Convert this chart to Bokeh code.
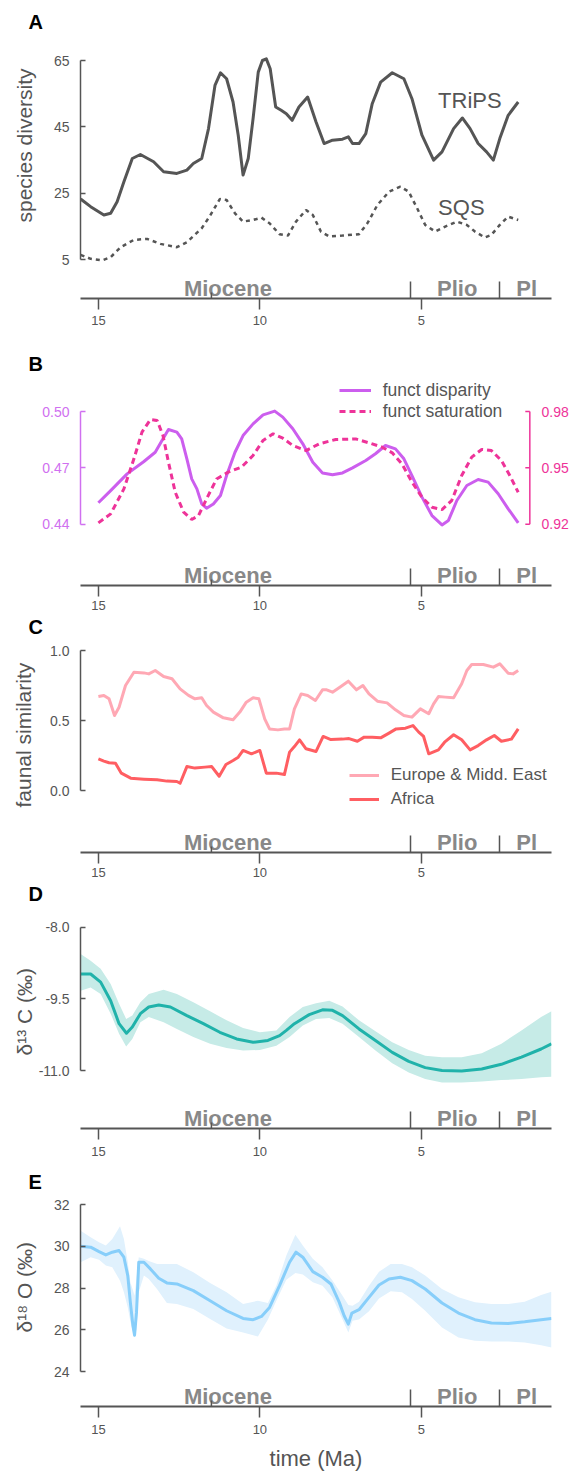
from bokeh.plotting import figure
from bokeh.models import (Range1d, FixedTicker, LinearAxis, Legend, LegendItem,
                          PrintfTickFormatter, Title)
from bokeh.layouts import column
from bokeh.embed import file_html
from bokeh.resources import INLINE
from bokeh.core.properties import value

FONT = "Liberation Sans"
GREY = "#555555"
EPOCH_GREY = "#888888"

# ---------------- data ----------------
time_ticks = [15, 10, 5]
epoch_bounds = [5.333, 2.58]
epoch_names = ["Miocene", "Plio", "Pl"]
epoch_label_age = [10.99, 3.89, 1.74]
miocene_subtick = [11.5]

# A: species diversity
trips_age = [15.55, 15.24, 14.83, 14.62, 14.42, 14.21, 13.95, 13.70, 13.29, 12.98, 12.57, 12.26, 12.06, 11.80, 11.59,
             11.39, 11.22, 11.03, 10.83, 10.67, 10.52, 10.36, 10.21, 10.05, 9.92, 9.80, 9.68, 9.51, 9.34, 9.18,
             9.00, 8.79, 8.52, 8.26, 8.01, 7.75, 7.44, 7.26, 7.13, 6.93, 6.72, 6.52, 6.26, 5.90, 5.54,
             5.29, 4.98, 4.62, 4.36, 4.00, 3.73, 3.49, 3.24, 2.98, 2.77, 2.57, 2.31, 2.00]
trips_val = [23.3, 21.0, 18.5, 19.0, 22.5, 28.5, 35.5, 36.7, 34.5, 31.5, 31.0, 32.0, 34.0, 35.5, 44.5,
             57.5, 61.3, 59.5, 52.5, 42.5, 30.5, 35.5, 47.5, 61.5, 65.0, 65.5, 62.5, 51.0, 50.0, 49.0,
             47.0, 51.0, 54.0, 46.5, 40.0, 41.0, 41.3, 42.0, 40.0, 40.0, 43.0, 52.0, 58.5, 61.3, 59.5,
             53.5, 42.5, 35.0, 37.5, 44.5, 47.7, 44.5, 40.0, 37.5, 35.0, 41.5, 48.5, 52.5]
sqs_age = [15.55, 15.24, 14.88, 14.62, 14.31, 13.90, 13.49, 13.08, 12.57, 12.26, 11.80, 11.54, 11.24, 11.03, 10.77,
           10.52, 10.21, 9.95, 9.70, 9.39, 9.13, 8.88, 8.57, 8.36, 8.11, 7.85, 7.44, 6.93, 6.67, 6.36,
           6.00, 5.65, 5.39, 5.13, 4.88, 4.57, 4.26, 3.90, 3.59, 3.34, 3.03, 2.83, 2.57, 2.31, 2.00]
sqs_val = [6.5, 5.3, 4.8, 5.8, 8.8, 11.0, 11.3, 9.8, 8.8, 10.3, 14.5, 18.3, 23.3, 23.0, 19.0,
           16.5, 17.0, 17.7, 16.0, 12.7, 12.3, 16.5, 20.0, 18.5, 13.5, 12.0, 12.3, 12.7, 16.0, 21.5,
           25.5, 27.0, 25.5, 20.5, 15.5, 13.5, 15.0, 16.5, 15.5, 13.5, 11.7, 12.5, 15.5, 18.0, 17.0]
a_ticks = [5, 25, 45, 65]
a_series_names = ["TRiPS", "SQS"]
a_name_age = [4.48, 4.48]
a_name_val = [52.9, 20.8]

# B: functional disparity / saturation
disp_age = [15.00, 14.62, 14.11, 13.59, 13.24, 13.03, 12.83, 12.57, 12.42, 12.26, 12.11, 11.95, 11.80, 11.65, 11.44,
            11.22, 11.03, 10.77, 10.52, 10.21, 9.90, 9.54, 9.29, 8.98, 8.67, 8.36, 8.06, 7.75, 7.44, 7.13,
            6.72, 6.42, 6.11, 5.80, 5.54, 5.29, 4.98, 4.67, 4.36, 4.16, 3.90, 3.59, 3.24, 2.93, 2.62, 2.31, 2.00]
disp_val = [0.4514, 0.4579, 0.4668, 0.4734, 0.4783, 0.4846, 0.4904, 0.4890, 0.4854, 0.4748, 0.4641, 0.4588, 0.4508,
            0.4485, 0.4508, 0.4553, 0.4659, 0.4783, 0.4872, 0.4934, 0.4982, 0.5002, 0.4970, 0.4908, 0.4828, 0.4730,
            0.4673, 0.4663, 0.4673, 0.4700, 0.4739, 0.4775, 0.4819, 0.4801, 0.4748, 0.4659, 0.4544, 0.4446, 0.4396,
            0.4420, 0.4526, 0.4606, 0.4638, 0.4624, 0.4562, 0.4482, 0.4407]
sat_age = [15.00, 14.62, 14.21, 13.90, 13.65, 13.39, 13.18, 13.00, 12.83, 12.62, 12.36, 12.11, 11.90, 11.65, 11.34,
           10.98, 10.57, 10.21, 9.90, 9.59, 9.29, 8.98, 8.57, 8.16, 7.65, 7.03, 6.62, 6.21, 5.90, 5.60,
           5.29, 4.98, 4.67, 4.36, 4.06, 3.75, 3.44, 3.13, 2.83, 2.52, 2.26, 2.00]
sat_val = [0.9207, 0.9255, 0.9388, 0.9548, 0.9690, 0.9757, 0.9752, 0.9672, 0.9530, 0.9370, 0.9264, 0.9225, 0.9246,
           0.9335, 0.9441, 0.9477, 0.9504, 0.9566, 0.9646, 0.9681, 0.9658, 0.9619, 0.9592, 0.9628, 0.9651, 0.9654,
           0.9633, 0.9610, 0.9580, 0.9521, 0.9424, 0.9344, 0.9290, 0.9278, 0.9326, 0.9459, 0.9557, 0.9598, 0.9592,
           0.9539, 0.9459, 0.9370]
disp_ticks = [0.44, 0.47, 0.50]
sat_ticks = [0.92, 0.95, 0.98]
sat_axis_age = 1.64

# C: faunal similarity
eur_age = [15.00, 14.83, 14.67, 14.50, 14.36, 14.16, 13.90, 13.59, 13.44, 13.24, 12.98, 12.72, 12.47, 12.21, 12.01,
           11.80, 11.65, 11.44, 11.13, 10.83, 10.62, 10.42, 10.21, 10.03, 9.85, 9.70, 9.44, 9.24, 9.08, 8.93,
           8.72, 8.52, 8.28, 8.06, 7.93, 7.75, 7.49, 7.26, 7.01, 6.81, 6.62, 6.36, 6.06, 5.80, 5.54,
           5.29, 5.03, 4.77, 4.62, 4.47, 4.26, 4.00, 3.75, 3.59, 3.44, 3.08, 2.77, 2.57, 2.31, 2.16, 2.00]
eur_val = [0.671, 0.679, 0.655, 0.536, 0.595, 0.750, 0.845, 0.840, 0.833, 0.857, 0.814, 0.798, 0.726, 0.679, 0.655,
           0.662, 0.607, 0.560, 0.519, 0.505, 0.560, 0.631, 0.662, 0.655, 0.512, 0.440, 0.433, 0.440, 0.440, 0.583,
           0.690, 0.679, 0.643, 0.719, 0.719, 0.702, 0.743, 0.781, 0.719, 0.750, 0.690, 0.638, 0.626, 0.576, 0.536,
           0.524, 0.583, 0.548, 0.619, 0.671, 0.667, 0.662, 0.762, 0.857, 0.900, 0.900, 0.881, 0.905, 0.838, 0.833,
           0.857]
afr_age = [15.00, 14.83, 14.67, 14.47, 14.29, 14.00, 13.59, 13.18, 12.88, 12.57, 12.47, 12.26, 12.01, 11.70, 11.49,
           11.26, 11.05, 10.83, 10.67, 10.52, 10.26, 10.00, 9.80, 9.49, 9.24, 9.08, 8.93, 8.77, 8.57, 8.26,
           8.04, 7.80, 7.44, 7.24, 6.98, 6.77, 6.52, 6.26, 6.00, 5.78, 5.49, 5.26, 5.08, 4.93, 4.77,
           4.47, 4.28, 4.00, 3.75, 3.49, 3.24, 2.98, 2.74, 2.52, 2.21, 2.00]
afr_val = [0.226, 0.210, 0.198, 0.195, 0.124, 0.088, 0.081, 0.076, 0.067, 0.064, 0.052, 0.171, 0.160, 0.167, 0.171,
           0.102, 0.186, 0.214, 0.238, 0.286, 0.262, 0.286, 0.124, 0.124, 0.114, 0.274, 0.314, 0.362, 0.298, 0.279,
           0.386, 0.364, 0.367, 0.371, 0.352, 0.381, 0.381, 0.376, 0.410, 0.440, 0.445, 0.464, 0.417, 0.386, 0.262,
           0.290, 0.345, 0.398, 0.362, 0.290, 0.321, 0.362, 0.393, 0.352, 0.367, 0.440]
c_ticks = [0.0, 0.5, 1.0]

# D: d13C
d13c_age = [15.55, 15.24, 14.93, 14.62, 14.36, 14.13, 13.95, 13.70, 13.44, 13.13, 12.77, 12.26, 11.75, 11.24, 10.72,
            10.21, 9.75, 9.39, 9.18, 8.93, 8.47, 8.06, 7.75, 7.44, 6.93, 6.42, 5.90, 5.39, 4.88, 4.36,
            3.75, 3.13, 2.52, 1.90, 1.29, 0.97]
d13c_mean = [-8.98, -8.98, -9.15, -9.54, -10.02, -10.22, -10.09, -9.81, -9.67, -9.63, -9.67, -9.85, -10.02, -10.20,
             -10.34, -10.41, -10.37, -10.27, -10.16, -10.02, -9.83, -9.73, -9.74, -9.85, -10.13, -10.37, -10.62,
             -10.81, -10.94, -11.00, -11.01, -10.97, -10.87, -10.72, -10.55, -10.44]
d13c_band_age = [15.55, 15.24, 14.93, 14.62, 14.36, 14.14, 13.95, 13.70, 13.44, 12.98, 12.57, 12.06, 11.54, 11.03,
                 10.52, 10.00, 9.49, 9.08, 8.67, 8.26, 7.85, 7.44, 6.93, 6.42, 5.90, 5.39, 4.88, 4.36, 3.75, 3.13,
                 2.52, 1.90, 1.29, 0.97]
d13c_upper = [-8.56, -8.70, -8.87, -9.19, -9.60, -9.92, -9.85, -9.57, -9.40, -9.31, -9.40, -9.57, -9.76, -9.95,
              -10.11, -10.20, -10.16, -9.88, -9.67, -9.59, -9.54, -9.66, -9.95, -10.18, -10.41, -10.57, -10.69,
              -10.72, -10.72, -10.64, -10.44, -10.16, -9.88, -9.76]
d13c_lower = [-9.33, -9.26, -9.40, -9.81, -10.23, -10.50, -10.34, -9.99, -9.88, -9.99, -10.13, -10.30, -10.44,
              -10.53, -10.58, -10.57, -10.48, -10.30, -10.06, -9.92, -9.90, -10.02, -10.30, -10.58, -10.85, -11.04,
              -11.18, -11.25, -11.25, -11.23, -11.20, -11.18, -11.14, -11.13]
d_ticks = [-11.0, -9.5, -8.0]

# E: d18O
d18o_age = [15.55, 15.24, 14.98, 14.77, 14.57, 14.36, 14.21, 14.09, 14.01, 13.93, 13.88, 13.82, 13.75, 13.59, 13.39,
            13.13, 12.88, 12.57, 12.06, 11.54, 11.03, 10.52, 10.21, 9.95, 9.70, 9.39, 9.08, 8.88, 8.67, 8.36,
            8.06, 7.80, 7.54, 7.39, 7.26, 7.15, 6.93, 6.62, 6.31, 6.00, 5.65, 5.29, 4.88, 4.36, 3.85,
            3.34, 2.83, 2.31, 1.80, 1.29, 0.97]
d18o_mean = [30.0, 29.96, 29.75, 29.59, 29.72, 29.80, 29.48, 28.60, 27.32, 26.20, 25.75, 26.84, 29.24, 29.24, 28.92,
             28.47, 28.25, 28.20, 27.88, 27.40, 26.92, 26.55, 26.49, 26.65, 27.08, 28.12, 29.24, 29.72, 29.48, 28.79,
             28.52, 28.20, 27.32, 26.68, 26.28, 26.81, 26.97, 27.56, 28.15, 28.44, 28.52, 28.36, 27.96, 27.29, 26.81,
             26.49, 26.33, 26.31, 26.39, 26.49, 26.55]
d18o_band_age = [15.55, 15.24, 14.98, 14.77, 14.57, 14.33, 14.21, 14.09, 14.01, 13.93, 13.88, 13.82, 13.75, 13.59,
                 13.44, 13.18, 12.88, 12.57, 12.06, 11.54, 11.03, 10.52, 10.06, 9.75, 9.49, 9.18, 8.90, 8.67, 8.36,
                 8.06, 7.75, 7.44, 7.26, 7.13, 6.93, 6.62, 6.31, 5.95, 5.60, 5.29, 4.88, 4.36, 3.85, 3.34, 2.83,
                 2.31, 1.80, 1.29, 0.97]
d18o_upper = [30.75, 30.43, 30.19, 30.04, 30.35, 30.96, 30.35, 29.24, 28.28, 27.90, 27.64, 28.50, 29.48, 29.40,
              29.30, 29.16, 29.16, 29.16, 28.76, 28.25, 27.80, 27.24, 27.40, 27.29, 28.12, 29.56, 30.55, 30.04,
              29.40, 29.00, 28.36, 27.64, 27.20, 27.16, 27.35, 28.12, 28.79, 29.16, 29.16, 29.00, 28.60, 27.96,
              27.56, 27.32, 27.24, 27.24, 27.35, 27.67, 27.83]
d18o_lower = [29.24, 29.48, 29.36, 29.08, 29.00, 28.35, 27.80, 27.08, 26.40, 25.90, 25.64, 26.04, 27.80, 28.60,
              28.44, 27.95, 27.29, 27.24, 27.00, 26.52, 26.07, 25.88, 25.69, 26.50, 27.40, 28.40, 28.73, 28.65,
              28.28, 28.12, 27.55, 26.50, 25.88, 26.44, 26.50, 26.90, 27.50, 27.85, 27.80, 27.48, 26.92, 26.12,
              25.64, 25.48, 25.45, 25.45, 25.40, 25.27, 25.16]
e_ticks = [24, 26, 28, 30, 32]

# ---------------- layout helpers ----------------
W = 571
X_LEFT, X_RIGHT = 15.554, 0.969   # time axis, reversed (Ma)


def y_span(v_top, px_top, v_bot, px_bot, ft, fb):
    k = (v_top - v_bot) / (px_bot - px_top)
    return v_bot - (fb - px_bot) * k, v_top + (px_top - ft) * k, k


def make_panel(h, ct, ft, fb, ticks, tick_px, fmt, letter, letter_standoff, xstandoff,
               ylabel=None, ylabel_offset=0, ylabel_standoff=0, axis_color=GREY):
    y_lo, y_hi, k = y_span(max(ticks), tick_px[0], min(ticks), tick_px[1], ft, fb)
    p = figure(width=W, height=h, x_range=Range1d(X_LEFT, X_RIGHT), y_range=Range1d(y_lo, y_hi),
               output_backend="svg", toolbar_location=None,
               min_border_left=79, min_border_right=18,
               min_border_top=ft - ct, min_border_bottom=ct + h - fb)
    p.outline_line_color = None
    p.xgrid.visible = False
    p.ygrid.visible = False
    p.background_fill_color = "white"
    p.border_fill_color = "white"

    p.title.text = letter
    p.title.align = "left"
    p.title.offset = -52
    p.title.standoff = letter_standoff
    p.title.vertical_align = "bottom"
    p.title.text_font = FONT
    p.title.text_font_size = "20px"
    p.title.text_font_style = "bold"
    p.title.text_color = "black"

    xa = p.xaxis[0]
    xa.ticker = FixedTicker(ticks=time_ticks, minor_ticks=epoch_bounds)
    xa.axis_line_color = GREY
    xa.axis_line_width = 2
    xa.major_tick_line_color = GREY
    xa.major_tick_line_width = 1.5
    xa.major_tick_out = 11
    xa.major_tick_in = 0
    xa.minor_tick_line_color = GREY
    xa.minor_tick_line_width = 1.5
    xa.minor_tick_in = 17
    xa.minor_tick_out = 0
    xa.major_label_standoff = xstandoff
    xa.major_label_text_font = FONT
    xa.major_label_text_font_size = "13px"
    xa.major_label_text_color = GREY

    ya = p.yaxis[0]
    ya.ticker = FixedTicker(ticks=ticks)
    ya.bounds = (min(ticks), max(ticks))
    ya.formatter = PrintfTickFormatter(format=fmt)
    ya.axis_line_color = axis_color
    ya.axis_line_width = 1.5
    ya.major_tick_line_color = axis_color
    ya.major_tick_line_width = 1.5
    ya.major_tick_in = 5
    ya.major_tick_out = 0
    ya.minor_tick_line_color = None
    ya.major_label_standoff = 11
    ya.major_label_text_font = FONT
    ya.major_label_text_font_size = "14px"
    ya.major_label_text_color = axis_color

    # geologic epochs
    p.text(x=epoch_label_age, y=[y_lo + 10.5 * k] * len(epoch_names), text=epoch_names,
           text_font=value(FONT), text_font_style="bold", text_font_size="22px",
           text_color=EPOCH_GREY, text_align="center", text_baseline="alphabetic")
    p.segment(x0=miocene_subtick, y0=[y_lo], x1=miocene_subtick, y1=[y_lo + 6 * k],
              line_color=GREY, line_width=1.5)

    if ylabel:
        t = Title(text=ylabel, align="left", offset=ylabel_offset, standoff=ylabel_standoff,
                  vertical_align="top", text_font=FONT, text_font_size="21px",
                  text_font_style="normal", text_color=GREY)
        p.add_layout(t, "left")
    return p, y_lo, k


# ---------------- A ----------------
pA, _, _ = make_panel(330, 0, 27, 298, a_ticks, (60, 259.3), "%d", "A", -11, 6,
                      "species diversity", 76, 25)
pA.line(trips_age, trips_val, line_color=GREY, line_width=3, line_join="round")
pA.line(sqs_age, sqs_val, line_color=GREY, line_width=2.5, line_dash="4 4")
pA.text(x=a_name_age, y=a_name_val, text=a_series_names, text_font=value(FONT),
        text_font_size="22px", text_color=GREY, text_align="left", text_baseline="alphabetic")

# ---------------- B ----------------
VIOLET = "#CC5EEE"
VIOLET_AX = "#D070F0"
PINK = "#EE3399"
pB, _, _ = make_panel(285, 330, 369, 585, disp_ticks, (411, 523.7), "%.2f", "B", -10, 4,
                      axis_color=VIOLET_AX)
s_lo, s_hi, s_k = y_span(max(sat_ticks), 411, min(sat_ticks), 523.7, 369, 585)
pB.extra_y_ranges = {"sat": Range1d(s_lo, s_hi)}
r_disp = pB.line(disp_age, disp_val, line_color=VIOLET, line_width=3, line_join="round")
r_sat = pB.line(sat_age, sat_val, line_color=PINK, line_width=3, line_dash="6 4",
                y_range_name="sat")
# right-hand axis (inside the frame, as in the original)
pB.segment(x0=[sat_axis_age], y0=[min(sat_ticks)], x1=[sat_axis_age], y1=[max(sat_ticks)],
           line_color=PINK, line_width=1.5, y_range_name="sat")
pB.segment(x0=[sat_axis_age] * 3, y0=sat_ticks, x1=[sat_axis_age + 0.14] * 3, y1=sat_ticks,
           line_color=PINK, line_width=1.5, y_range_name="sat")
ra = LinearAxis(y_range_name="sat", ticker=FixedTicker(ticks=sat_ticks),
                formatter=PrintfTickFormatter(format="%.2f"))
ra.axis_line_color = None
ra.major_tick_line_color = None
ra.minor_tick_line_color = None
ra.major_tick_in = 0
ra.major_tick_out = 0
ra.major_label_standoff = -10
ra.major_label_text_font = FONT
ra.major_label_text_font_size = "14px"
ra.major_label_text_color = PINK
pB.add_layout(ra, "right")
legB = Legend(items=[LegendItem(label="funct disparity", renderers=[r_disp]),
                     LegendItem(label="funct saturation", renderers=[r_sat])],
              location=(258.7, 163.5), padding=0, margin=0, spacing=-1,
              glyph_width=32, glyph_height=16, label_height=16, label_standoff=12,
              label_text_font=FONT, label_text_font_size="17.5px", label_text_color=GREY,
              background_fill_alpha=0, border_line_alpha=0)
pB.add_layout(legB)

# ---------------- C ----------------
pC, _, _ = make_panel(267, 615, 631, 852, c_ticks, (650, 790), "%.1f", "C", -13, 4,
                      "faunal similarity", 45, 21)
r_eur = pC.line(eur_age, eur_val, line_color="#FFA8B4", line_width=3, line_join="round")
r_afr = pC.line(afr_age, afr_val, line_color="#FF5E62", line_width=3, line_join="round")
legC = Legend(items=[LegendItem(label="Europe & Midd. East", renderers=[r_eur]),
                     LegendItem(label="Africa", renderers=[r_afr])],
              location=(268.7, 42.8), padding=0, margin=0, spacing=4,
              glyph_width=30, glyph_height=16, label_height=16, label_standoff=12,
              label_text_font=FONT, label_text_font_size="17px", label_text_color=GREY,
              background_fill_alpha=0, border_line_alpha=0)
pC.add_layout(legC)

# ---------------- D ----------------
pD, _, _ = make_panel(280, 882, 898, 1128, d_ticks, (926.7, 1070), "%.1f", "D", -13, 7,
                      "δ¹³ C (‰)", 73, -5)
pD.varea(x=d13c_band_age, y1=d13c_lower, y2=d13c_upper, fill_color="#C6EBE7")
pD.line(d13c_age, d13c_mean, line_color="#20B2AA", line_width=3, line_join="round")

# ---------------- E ----------------
pE, _, _ = make_panel(312, 1162, 1187, 1406, e_ticks, (1204, 1371.3), "%d", "E", -11, 7,
                      "δ¹⁸ O (‰)", 74, 25)
pE.varea(x=d18o_band_age, y1=d18o_lower, y2=d18o_upper, fill_color="#E0F1FD")
pE.line(d18o_age, d18o_mean, line_color="#87CEFA", line_width=3, line_join="round")
xe = pE.xaxis[0]
xe.axis_label = "time (Ma)"
xe.axis_label_standoff = 9
xe.axis_label_text_font = FONT
xe.axis_label_text_font_size = "22px"
xe.axis_label_text_font_style = "normal"
xe.axis_label_text_color = GREY

layout = column(pA, pB, pC, pD, pE)
open("out.html", "w").write(file_html(layout, INLINE))
